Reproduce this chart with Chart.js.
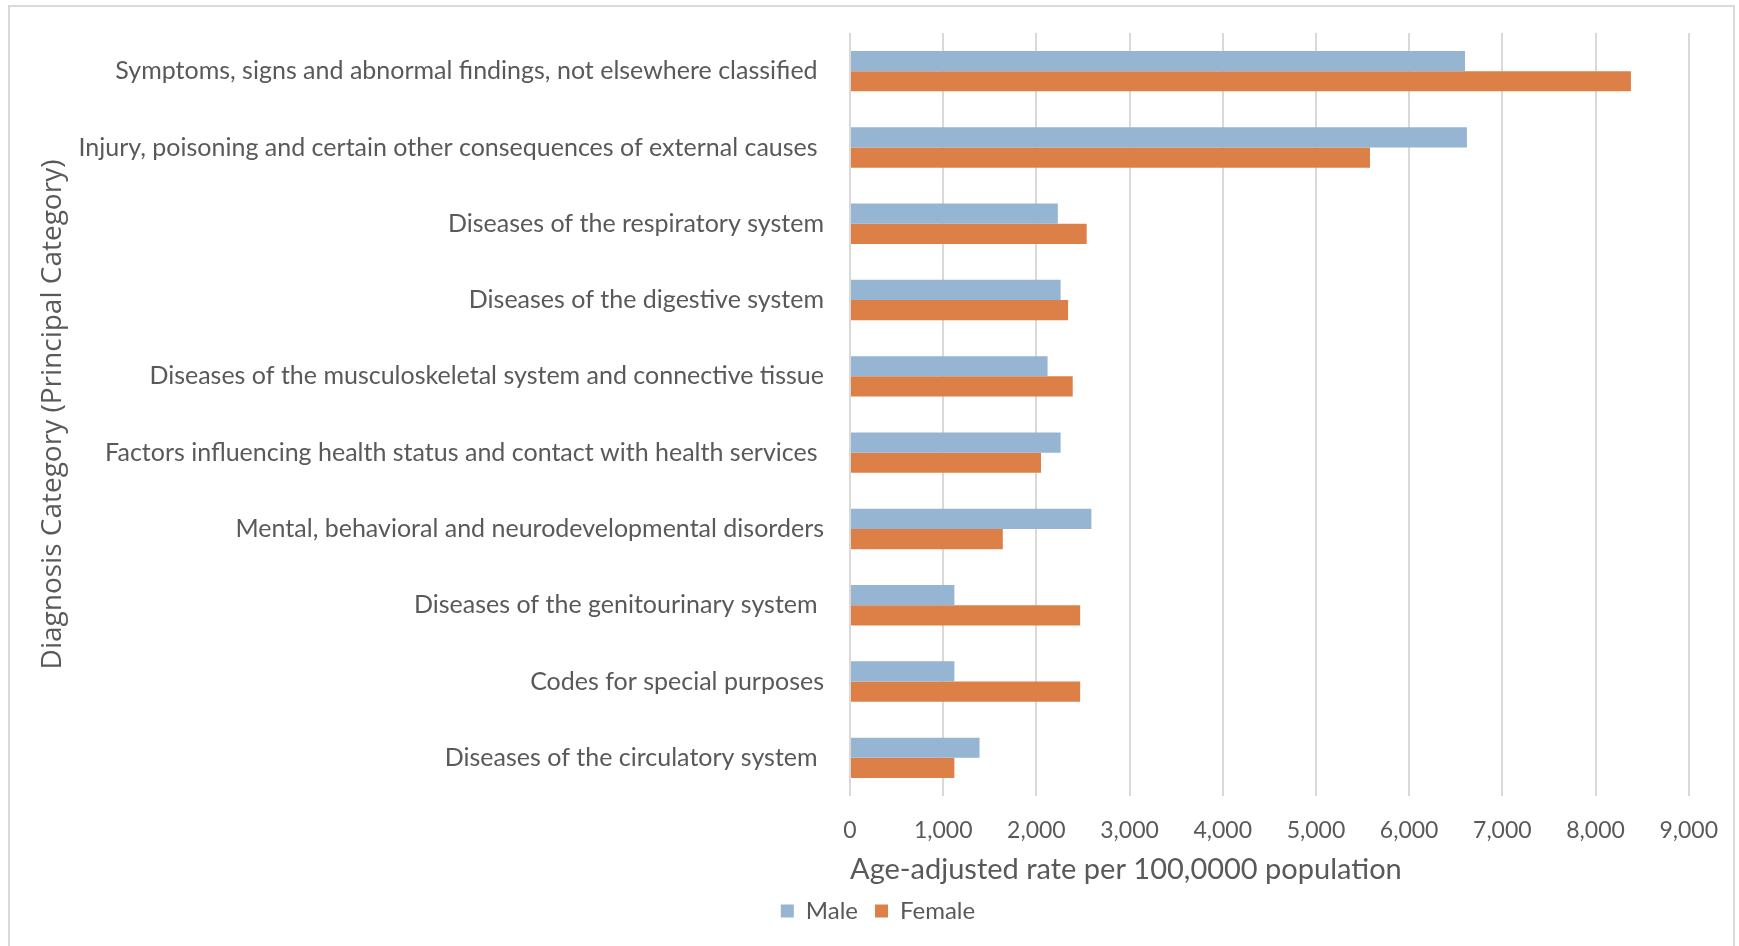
<!DOCTYPE html>
<html>
<head>
<meta charset="utf-8">
<script src="https://cdn.jsdelivr.net/npm/chart.js@4/dist/chart.umd.min.js"></script>
<style>
  html, body { margin: 0; padding: 0; background: #fff; }
  #wrap { position: relative; width: 1739px; height: 946px; overflow: hidden; }
  #frame { position: absolute; left: 8px; top: 5px; width: 1727px; height: 980px; border: 2px solid #d9d9d9; box-sizing: border-box; }
  canvas { position: absolute; left: 0; top: 0; }
</style>
</head>
<body>
<div id="wrap">
  <div id="frame"></div>
  <canvas id="myChart" width="1739" height="946"></canvas>
</div>
<script>
// Data
const categories = [
  'Symptoms, signs and abnormal findings, not elsewhere classified ',
  'Injury, poisoning and certain other consequences of external causes ',
  'Diseases of the respiratory system',
  'Diseases of the digestive system',
  'Diseases of the musculoskeletal system and connective tissue',
  'Factors influencing health status and contact with health services ',
  'Mental, behavioral and neurodevelopmental disorders',
  'Diseases of the genitourinary system ',
  'Codes for special purposes',
  'Diseases of the circulatory system '
];
const maleRates   = [6600, 6620, 2230, 2260, 2120, 2260, 2590, 1120, 1120, 1390];
const femaleRates = [8380, 5580, 2540, 2340, 2390, 2050, 1640, 2470, 2470, 1120];
const seriesNames = ['Male', 'Female'];

const grey = '#595959';
const textFont = 'Lato, "Liberation Sans", sans-serif';
const padLeft = 64;

const ctx = document.getElementById('myChart').getContext('2d');
const chart = new Chart(ctx, {
  type: 'bar',
  data: {
    labels: categories,
    datasets: [
      { label: seriesNames[0], data: maleRates,   backgroundColor: '#95b5d3' },
      { label: seriesNames[1], data: femaleRates, backgroundColor: '#dd8047' }
    ]
  },
  options: {
    indexAxis: 'y',
    responsive: false,
    animation: false,
    layout: { padding: { left: padLeft, right: 47, top: 30, bottom: 13 } },
    datasets: { bar: { categoryPercentage: 0.53, barPercentage: 1.0 } },
    scales: {
      x: {
        min: 0,
        max: 9000,
        ticks: {
          stepSize: 1000,
          padding: 21,
          color: grey,
          font: { family: textFont, size: 23 },
          callback: v => v.toLocaleString('en-US')
        },
        grid: { color: '#d9d9d9', lineWidth: 2, drawTicks: false },
        border: { display: false },
        title: {
          display: true,
          text: 'Age-adjusted rate per 100,0000 population',
          align: 'start',
          color: grey,
          font: { family: textFont, size: 29 },
          padding: { top: 0, bottom: -5 }
        },
        afterFit: s => { s.height = 86; }
      },
      y: {
        ticks: {
          padding: 18,
          color: grey,
          font: { family: textFont, size: 25 }
        },
        grid: { display: false },
        border: { display: false },
        title: {
          display: true,
          text: 'Diagnosis Category (Principal Category)',
          color: grey,
          font: { family: '"Open Sans", sans-serif', size: 28 },
          padding: { top: 36 - padLeft, bottom: 0 }
        },
        afterFit: s => { s.width = 850 - padLeft; }
      }
    },
    plugins: {
      legend: {
        position: 'bottom',
        labels: {
          boxWidth: 13,
          boxHeight: 13,
          padding: 17,
          color: grey,
          font: { family: textFont, size: 24 }
        }
      },
      tooltip: { enabled: false }
    }
  }
});
</script>
</body>
</html>
